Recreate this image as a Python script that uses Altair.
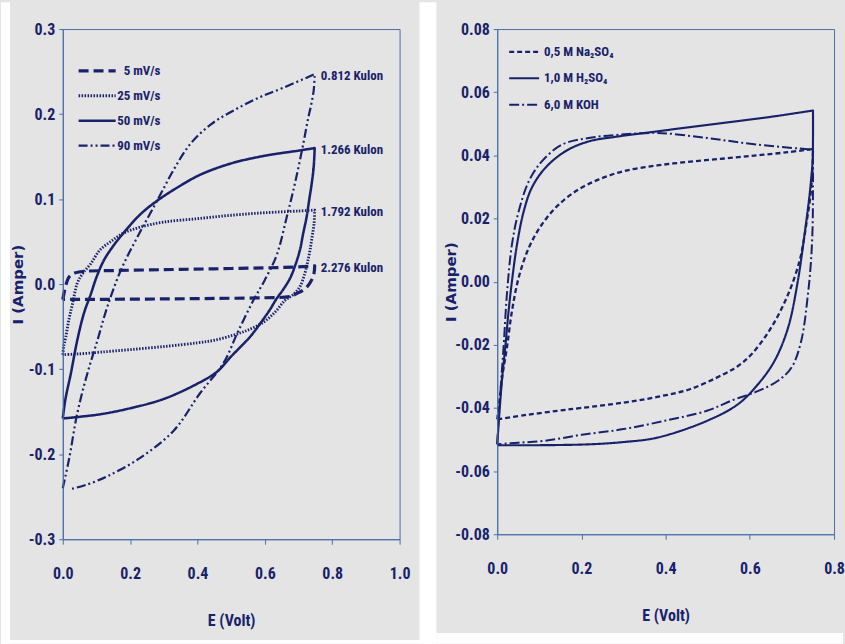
import altair as alt
import pandas as pd

NAVY = "#18226a"
AXIS = "#4a6ea8"
GREY = "#e4e4e4"
FONT_N = "Roboto Condensed, Liberation Sans Narrow, Liberation Sans, Arial, sans-serif"
FONT_T = "DejaVu Sans, Liberation Sans, sans-serif"

# ---------------- left panel data (scan rates) ----------------
rates = ["5 mV/s", "25 mV/s", "50 mV/s", "90 mV/s"]
charges = ["2.276 Kulon", "1.792 Kulon", "1.266 Kulon", "0.812 Kulon"]

x_5 = [0.0, 0.004, 0.010, 0.019, 0.035, 0.063, 0.15, 0.3, 0.45, 0.6, 0.7, 0.748,
       0.746, 0.739, 0.728, 0.714, 0.695, 0.675, 0.6, 0.45, 0.3, 0.15, 0.05, 0.0]
y_5 = [-0.018, -0.010, 0.0, 0.0086, 0.0130, 0.0150, 0.0160, 0.0170, 0.0180, 0.0192, 0.0202, 0.0215,
       0.013, 0.005, -0.002, -0.007, -0.011, -0.0145, -0.0160, -0.0168, -0.0174, -0.0178, -0.018, -0.018]

x_25 = [0.0, 0.003, 0.009, 0.018, 0.029, 0.043, 0.06, 0.083, 0.11, 0.142, 0.18, 0.23, 0.3, 0.4, 0.5, 0.6, 0.7, 0.748,
        0.746, 0.740, 0.734, 0.727, 0.719, 0.704, 0.685, 0.66, 0.63, 0.595, 0.55, 0.506, 0.45, 0.4, 0.31, 0.2, 0.112, 0.05, 0.0]
y_25 = [-0.083, -0.073, -0.062, -0.042, -0.023, 0.001, 0.013, 0.024, 0.040, 0.050, 0.060, 0.067, 0.073, 0.077, 0.081, 0.084, 0.086, 0.087,
        0.071, 0.055, 0.040, 0.026, 0.013, -0.003, -0.012, -0.019, -0.033, -0.045, -0.054, -0.060, -0.066, -0.069, -0.073, -0.077, -0.080, -0.082, -0.083]

x_50 = [0.0, 0.008, 0.024, 0.043, 0.063, 0.083, 0.10, 0.122, 0.15, 0.18, 0.23, 0.28, 0.35, 0.41, 0.5, 0.6, 0.7, 0.748,
        0.745, 0.739, 0.732, 0.724, 0.714, 0.704, 0.69, 0.675, 0.655, 0.635, 0.615, 0.585, 0.556, 0.5, 0.458, 0.4, 0.3, 0.2, 0.112, 0.05, 0.0]
y_50 = [-0.158, -0.135, -0.105, -0.066, -0.034, -0.012, 0.008, 0.028, 0.045, 0.060, 0.082, 0.098, 0.116, 0.129, 0.142, 0.151, 0.157, 0.160,
        0.138, 0.118, 0.100, 0.079, 0.060, 0.040, 0.022, 0.007, -0.006, -0.017, -0.030, -0.047, -0.062, -0.085, -0.103, -0.117, -0.135, -0.146, -0.153, -0.156, -0.158]

x_90 = [0.0, 0.019, 0.043, 0.073, 0.103, 0.132, 0.172, 0.221, 0.28, 0.33, 0.379, 0.44, 0.506, 0.58, 0.655, 0.748,
        0.745, 0.737, 0.729, 0.714, 0.689, 0.665, 0.635, 0.60, 0.566, 0.52, 0.477, 0.408, 0.33, 0.231, 0.132, 0.07, 0.024]
y_90 = [-0.240, -0.205, -0.152, -0.105, -0.066, -0.027, 0.016, 0.055, 0.098, 0.135, 0.165, 0.188, 0.204, 0.219, 0.231, 0.247,
        0.228, 0.210, 0.196, 0.165, 0.118, 0.079, 0.034, 0.005, -0.019, -0.056, -0.093, -0.128, -0.172, -0.204, -0.226, -0.236, -0.241]

# ---------------- right panel data (electrolytes) ----------------
electrolytes = ["0,5 M Na\u2082SO\u2084", "1,0 M H\u2082SO\u2084", "6,0 M KOH"]

x_na = [0.0, 0.005, 0.012, 0.023, 0.035, 0.051, 0.075, 0.106, 0.146, 0.193, 0.24, 0.30, 0.38, 0.459, 0.54, 0.617, 0.69, 0.75,
        0.749, 0.746, 0.742, 0.735, 0.728, 0.718, 0.691, 0.651, 0.604, 0.572, 0.538, 0.459, 0.38, 0.30, 0.2, 0.143, 0.07, 0.0]
y_na = [-0.0436, -0.038, -0.030, -0.0209, -0.0093, 0.0013, 0.0107, 0.0181, 0.0244, 0.0292, 0.0323, 0.0350, 0.0368, 0.0380, 0.0390, 0.0400, 0.0410, 0.0420,
        0.036, 0.030, 0.025, 0.019, 0.013, 0.0065, -0.004, -0.0145, -0.023, -0.0267, -0.0293, -0.034, -0.0365, -0.0383, -0.0400, -0.0409, -0.0422, -0.0436]

x_h = [0.0, 0.006, 0.012, 0.019, 0.027, 0.035, 0.047, 0.063, 0.082, 0.114, 0.162, 0.217, 0.288, 0.38, 0.538, 0.65, 0.75,
       0.750, 0.749, 0.746, 0.742, 0.730, 0.714, 0.691, 0.659, 0.62, 0.572, 0.498, 0.38, 0.30, 0.222, 0.1, 0.0]
y_h = [-0.0515, -0.040, -0.030, -0.0209, -0.0093, 0.0002, 0.0118, 0.0223, 0.0297, 0.0360, 0.0413, 0.0444, 0.0460, 0.0476, 0.0503, 0.0522, 0.0542,
       0.045, 0.038, 0.033, 0.0276, 0.015, 0.0002, -0.0145, -0.025, -0.0324, -0.0388, -0.0441, -0.0494, -0.0508, -0.0515, -0.0518, -0.0518]

x_koh = [0.0, 0.005, 0.010, 0.015, 0.023, 0.035, 0.051, 0.075, 0.106, 0.154, 0.217, 0.288, 0.38, 0.498, 0.617, 0.75,
         0.750, 0.749, 0.745, 0.738, 0.722, 0.699, 0.667, 0.62, 0.56, 0.498, 0.40, 0.30, 0.2, 0.114, 0.05, 0.0]
y_koh = [-0.0515, -0.040, -0.030, -0.0209, -0.0040, 0.0118, 0.0223, 0.0318, 0.0381, 0.0434, 0.0455, 0.0465, 0.0471, 0.0455, 0.0434, 0.0418,
         0.030, 0.017, 0.006, -0.004, -0.0188, -0.0272, -0.0314, -0.0346, -0.0375, -0.0409, -0.0440, -0.0467, -0.0485, -0.0504, -0.0510, -0.0515]

# tick values
left_x_ticks = [0.0, 0.2, 0.4, 0.6, 0.8, 1.0]
left_y_ticks = [-0.3, -0.2, -0.1, 0.0, 0.1, 0.2, 0.3]
right_x_ticks = [0.0, 0.2, 0.4, 0.6, 0.8]
right_y_ticks = [-0.08, -0.06, -0.04, -0.02, 0.0, 0.02, 0.04, 0.06, 0.08]


def make_df(names, xs, ys):
    rows = []
    for n, xa, ya in zip(names, xs, ys):
        turn = xa.index(max(xa))
        seq = 0
        for k, (a, b) in enumerate(zip(xa, ya)):
            rows.append({"series": n, "i": seq, "E": a, "I": b})
            seq += 1
            if k == turn:  # repeat the turning vertex so the spline keeps a sharp corner
                rows.append({"series": n, "i": seq, "E": a, "I": b})
                seq += 1
    return pd.DataFrame(rows)


def strip(x, x2, y, y2):
    return alt.Chart(pd.DataFrame({"k": [0]})).mark_rect(fill="white").encode(
        x=alt.value(x), x2=alt.value(x2), y=alt.value(y), y2=alt.value(y2))


def panel(names, xs, ys, dashes, widths, xdom, ydom, xticks, yticks, xfmt, yfmt,
          W, H, title_x_off, legend_cfg, extra_layers, strips):
    df = make_df(names, xs, ys)
    neg = "(datum.value < 0 ? '-' : '') + format(abs(datum.value), '%s')" % yfmt
    xenc = alt.X("E:Q", scale=alt.Scale(domain=xdom, nice=False, zero=False),
                 axis=alt.Axis(values=xticks, format=xfmt, title="E (Volt)", grid=False,
                               domainColor=AXIS, tickColor=AXIS, tickSize=5, labelPadding=21,
                               labelFont=FONT_N, labelFontSize=16, labelFontWeight="bold",
                               labelColor=NAVY, labelFlush=False, labelOverlap=False,
                               titleFont=FONT_N, titleFontSize=16, titleFontWeight="bold",
                               titleColor=NAVY, titleX=W / 2, titleY=82,
                               titleBaseline="middle", titleAlign="center", zindex=1))
    yenc = alt.Y("I:Q", scale=alt.Scale(domain=ydom, nice=False, zero=False),
                 axis=alt.Axis(values=yticks, labelExpr=neg, title="I (Amper)", grid=False,
                               domainColor=AXIS, tickColor=AXIS, tickSize=4, labelPadding=4,
                               labelFont=FONT_N, labelFontSize=16, labelFontWeight="bold",
                               labelColor=NAVY, labelFlush=False, labelOverlap=False,
                               titleFont=FONT_T, titleFontSize=15, titleFontWeight="bold",
                               titleColor=NAVY, titleX=title_x_off, titleY=H / 2,
                               titleAngle=-90, titleBaseline="middle", titleAlign="center",
                               zindex=1))
    dash = alt.StrokeDash("series:N", scale=alt.Scale(domain=names, range=dashes), legend=None)
    sw = alt.StrokeWidth("series:O", scale=alt.Scale(domain=names, range=widths), legend=None)

    lines = alt.Chart(df).mark_line(color=NAVY, interpolate="catmull-rom", strokeJoin="round").encode(
        x=xenc, y=yenc, strokeDash=dash, strokeWidth=sw, order=alt.Order("i:Q"))

    # legend built in data coordinates
    lx0, lx1, ly0, lstep, tx, talign = legend_cfg
    leg = pd.DataFrame({"series": names,
                        "x0": [lx0] * len(names), "x1": [lx1] * len(names),
                        "tx": [tx] * len(names),
                        "y": [ly0 - k * lstep for k in range(len(names))]})
    leg_lines = alt.Chart(leg).mark_rule(color=NAVY).encode(
        x="x0:Q", x2="x1:Q", y="y:Q", strokeDash=dash, strokeWidth=sw)
    leg_text = alt.Chart(leg).mark_text(align=talign, baseline="middle", font=FONT_N, fontSize=13,
                                        fontWeight="bold", color=NAVY).encode(
        x="tx:Q", y="y:Q", text="series:N")

    layers = [strip(*s) for s in strips] + [lines, leg_lines, leg_text] + extra_layers()
    return alt.layer(*layers).properties(width=W, height=H)


WL, HL = 338, 512
WR, HR = 338, 507


def left_extra():
    # charge labels placed at the end of each forward sweep
    ends = []
    for n, c, xa, ya in zip(rates, charges, [x_5, x_25, x_50, x_90], [y_5, y_25, y_50, y_90]):
        k = xa.index(max(xa))
        ends.append({"E": xa[k], "I": ya[k], "label": c})
    edf = pd.DataFrame(ends)
    return [alt.Chart(edf).mark_text(align="left", baseline="middle", dx=6, dy=2, font=FONT_N,
                                     fontSize=13, fontWeight="bold", color=NAVY).encode(
        x=alt.X("E:Q"), y=alt.Y("I:Q"), text="label:N")]


def no_extra():
    return []


left = panel(rates, [x_5, x_25, x_50, x_90], [y_5, y_25, y_50, y_90],
             [[10, 5], [1.5, 1.5], [1, 0], [9, 3, 2, 3, 2, 3]], [3.2, 2.2, 2.4, 2.2],
             [0, 1.0], [-0.3, 0.3], left_x_ticks, left_y_ticks, ".1f", ".1f",
             WL, HL, -45,
             (0.047, 0.157, 0.2508, 0.0293, 0.29, "right"), left_extra,
             [(-62, -53, -27, HL + 105), (WL + 20, WL + 37, -27, HL + 105), (-62, WL + 37, HL + 101, HL + 105)])

right = panel(electrolytes, [x_na, x_h, x_koh], [y_na, y_h, y_koh],
              [[5, 3], [1, 0], [10, 3, 2, 3]], [2.3, 2.0, 2.0],
              [0, 0.8], [-0.08, 0.08], right_x_ticks, right_y_ticks, ".1f", ".2f",
              WR, HR, -47,
              (0.0284, 0.0994, 0.0728, 0.0084, 0.111, "left"), no_extra,
              [(-61, WR + 9, HR + 99, HR + 110)])

chart = alt.hconcat(left, right, spacing=98, bounds="flush").resolve_scale(
    strokeDash="independent", strokeWidth="independent"
).properties(
    padding={"left": 0, "top": 0, "right": 0, "bottom": 0}, background=GREY
).configure_view(stroke=AXIS, strokeWidth=1)

chart.save("out.html", embed_options={"renderer": "svg", "actions": False})
